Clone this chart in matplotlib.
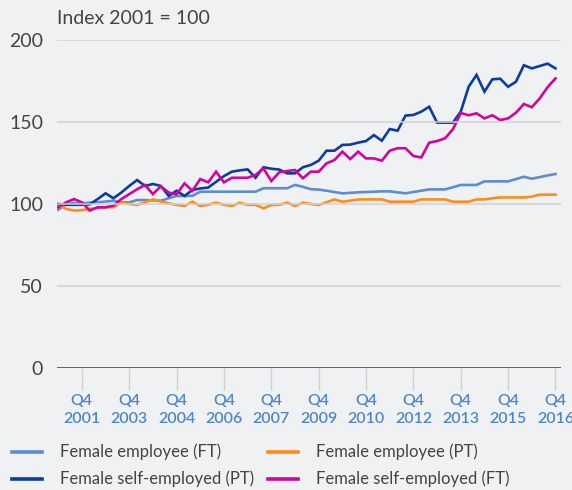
import matplotlib
matplotlib.use("Agg")
import matplotlib.pyplot as plt
from matplotlib.lines import Line2D

# quarterly index, Q1 2001 .. Q4 2016 (2001 = 100)
tick_labels = ["Q4\n2001", "Q4\n2003", "Q4\n2004", "Q4\n2006", "Q4\n2007", "Q4\n2009",
               "Q4\n2010", "Q4\n2012", "Q4\n2013", "Q4\n2015", "Q4\n2016"]
tick_index = [3, 9, 15, 21, 27, 33, 39, 45, 51, 57, 63]

emp_ft = [96.5, 100, 100.5, 100.5, 100.8, 101, 101.5, 102, 101, 101, 102.4, 102.4, 102.2, 102, 103.5, 104.9,
          104.9, 105, 107.5, 107.5, 107.5, 107.5, 107.5, 107.5, 107.5, 107.5, 109.6, 109.6, 109.6, 109.6, 111.6, 110.5,
          109, 108.8, 108.1, 107.3, 106.5, 106.8, 107.1, 107.3, 107.5, 107.7, 107.7, 107.1, 106.5, 107.3, 108.1, 108.9,
          108.9, 108.9, 110.2, 111.6, 111.6, 111.6, 113.8, 113.8, 113.8, 113.8, 115.2, 116.6, 115.4, 116.4, 117.4, 118.3]
emp_pt = [99.5, 97, 96, 96.3, 97, 97.5, 98, 98, 101, 100, 99.4, 101, 102.8, 101.5, 100.4, 99.5,
          98.8, 101.4, 98.8, 99.5, 100.8, 99.5, 98.8, 100.8, 99.5, 99.5, 97.4, 99.4, 99.5, 100.8, 98.8, 100.8,
          100, 99.4, 101, 102.8, 101.4, 102, 102.8, 102.8, 102.8, 102.8, 101.4, 101.4, 101.4, 101.4, 102.8, 102.8,
          102.8, 102.8, 101.4, 101.4, 101.4, 102.8, 102.8, 103.5, 104, 104, 104, 104, 104.5, 105.7, 105.7, 105.7]
self_pt = [100, 99.5, 99.5, 99.5, 99.8, 103, 106.5, 103.5, 107, 111, 114.6, 111, 112.2, 111, 104.9, 108.1,
           104.9, 108.5, 109.5, 110, 113.5, 117, 119.7, 120.5, 121.1, 116, 122.4, 121.5, 121, 118.7, 118.7, 122.4,
           123.8, 126.4, 132.5, 132.5, 136, 136.2, 137.4, 138.4, 142, 138.6, 145.7, 144.7, 153.9, 154.3, 156.3, 159.3,
           149.6, 149.6, 149.6, 156.3, 171.5, 178.7, 168.5, 176, 176.4, 171.5, 174.6, 184.6, 182.7, 184.1, 185.6, 182.7]
self_ft = [98, 101, 103, 101, 96, 98, 98, 99, 103, 106, 109, 111.6, 106, 110.8, 107, 105.9,
           112.6, 108, 115.2, 113.2, 119.7, 113.2, 116, 116, 116, 117.7, 121.7, 114, 119.3, 120.1, 120.7, 115.7,
           119.7, 119.7, 124.8, 126.8, 131.9, 127.4, 131.9, 127.8, 127.8, 126.4, 132.5, 134, 134, 129.3, 128.4, 137.4,
           138.4, 140, 145.5, 155.5, 154.1, 155.3, 152.2, 154.1, 151.2, 152.2, 155.7, 161, 159, 164.4, 171.2, 176.6]

series = [
    ("Female employee (FT)", emp_ft, "#5b8dcf"),
    ("Female employee (PT)", emp_pt, "#ff8c1a"),
    ("Female self-employed (PT)", self_pt, "#0b3d9e"),
    ("Female self-employed (FT)", self_ft, "#d1049b"),
]

bg = "#f0f1f3"
txt = "#444444"
plt.rcParams["font.family"] = ["Lato", "DejaVu Sans"]

fig = plt.figure(figsize=(5.72, 4.9), dpi=100, facecolor=bg)
ax = fig.add_axes([57 / 572, 1 - 368 / 490, 504 / 572, 328 / 490], facecolor=bg)

x = list(range(len(emp_ft)))
for name, vals, col in series:
    ax.plot(x, vals, color=col, lw=1.9, zorder=2, solid_joinstyle="miter")

ax.set_ylim(0, 200)
ax.set_xlim(-0.15, 63.7)
ax.set_yticks([0, 50, 100, 150, 200])
for v in [50, 100, 150, 200]:
    ax.axhline(v, color="#d2d2d4", lw=1.5, alpha=0.75, zorder=3)
ax.axhline(0, color="#555555", lw=1.3, zorder=4)

for s in ax.spines.values():
    s.set_visible(False)

ax.tick_params(axis="y", length=0, pad=10, labelsize=14, labelcolor=txt)
ax.set_xticks(tick_index)
ax.set_xticklabels(tick_labels, fontsize=11.5, color="#4d87cb", fontweight="semibold", linespacing=1.3)
ax.tick_params(axis="x", length=16, width=1, color="#cfcfd1", pad=3)

fig.text(57 / 572, 1 - 19 / 490, "Index 2001 = 100", fontsize=14, color=txt, va="center", ha="left")

# legend laid out by rows: (x of handle start, y) in pixels
legend_pos = [(12, 452), (268, 452), (12, 479), (268, 479)]
for (name, _, col), (px, py) in zip(series, legend_pos):
    yf = 1 - py / 490
    fig.add_artist(Line2D([px / 572, (px + 30) / 572], [yf, yf], color=col, lw=2.6,
                          transform=fig.transFigure))
    fig.text((px + 48) / 572, yf, name, fontsize=12, color=txt, va="center", ha="left")

fig.savefig("out.png", dpi=100, facecolor=bg)
